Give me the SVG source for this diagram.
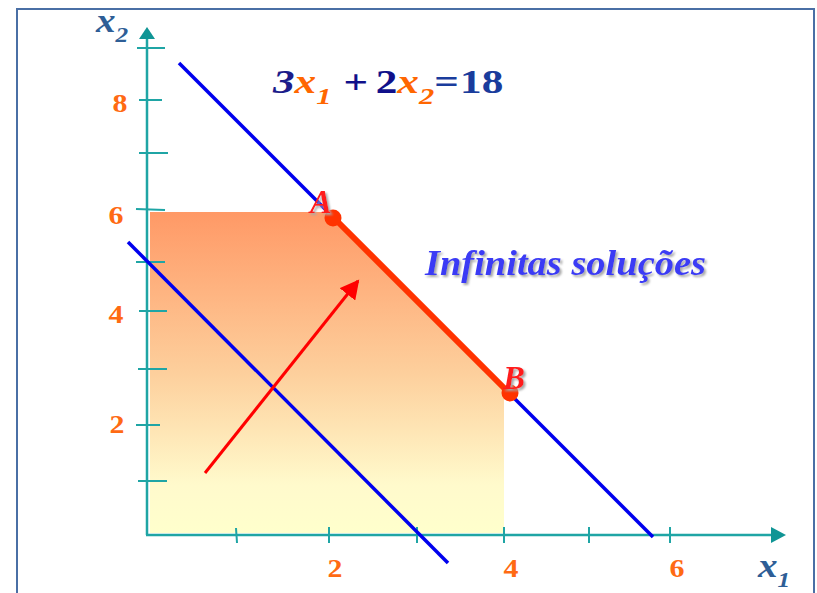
<svg xmlns="http://www.w3.org/2000/svg" width="817" height="593" viewBox="0 0 817 593">
<style>
.axis{stroke:#1fa5a5;stroke-width:2.5;fill:none}
.tick{stroke:#1fa5a5;stroke-width:2;fill:none}
.num{font-family:"Liberation Serif",serif;font-weight:bold;font-size:26px;fill:#ff6a13;text-anchor:middle}
.axlab{font-family:"Liberation Serif",serif;font-weight:bold;font-style:italic;fill:#2e5e96}
.blue{stroke:#0000ee;stroke-width:3.5;fill:none}
.pt{font-family:"Liberation Serif",serif;font-weight:bold;font-style:italic;font-size:33px;fill:#ff1a1a}
.eq{font-family:"Liberation Serif",serif;font-weight:bold;font-size:34px}
.var{font-style:italic;fill:#ff6600}
</style>
<defs>
<linearGradient id="g" x1="0" y1="0" x2="0" y2="1">
<stop offset="0" stop-color="#ff9966"/>
<stop offset="0.5" stop-color="#fdcf9c"/>
<stop offset="0.85" stop-color="#fffacc"/>
<stop offset="1" stop-color="#ffffcc"/>
</linearGradient>
<filter id="sh" x="-10%" y="-20%" width="130%" height="150%">
<feDropShadow dx="2" dy="2" stdDeviation="0.8" flood-color="#a8a8a8" flood-opacity="1"/>
</filter>
<marker id="ah" markerWidth="20" markerHeight="20" refX="17" refY="10" orient="auto" markerUnits="userSpaceOnUse">
<path d="M0,0 L19,10 L0,20 Z" fill="#ff0000"/>
</marker>
</defs>
<rect x="17" y="9" width="797" height="620" fill="#ffffff" stroke="#4a6fa5" stroke-width="2"/>

<g id="feasible-region">
<polygon points="150,212 328,212 504,388 504,533 150,533" fill="url(#g)"/>
</g>

<g id="axes">
<line class="axis" x1="147" y1="38" x2="147" y2="535"/>
<polygon points="147,27 139,39 155,39" fill="#109595"/>
<line class="axis" x1="146" y1="535" x2="772" y2="535"/>
<polygon points="786,535 771,527 771,543" fill="#109595"/>
<g class="tick">
<line x1="137" y1="48" x2="165" y2="48"/>
<line x1="139" y1="100" x2="162" y2="100"/>
<line x1="139" y1="153" x2="168" y2="153"/>
<line x1="136" y1="209" x2="165" y2="210"/>
<line x1="136" y1="262" x2="165" y2="262"/>
<line x1="139" y1="311" x2="167" y2="311"/>
<line x1="138" y1="369" x2="167" y2="369"/>
<line x1="136" y1="425" x2="160" y2="425"/>
<line x1="138" y1="481" x2="167" y2="481"/>
<line x1="236" y1="528" x2="237" y2="543"/>
<line x1="329" y1="527" x2="329" y2="543"/>
<line x1="417" y1="527" x2="417" y2="543"/>
<line x1="504" y1="527" x2="504" y2="543"/>
<line x1="589" y1="527" x2="589" y2="543"/>
<line x1="670" y1="527" x2="670" y2="543"/>
</g>
<text class="num" transform="translate(120,112) scale(1.15,1)">8</text>
<text class="num" transform="translate(116,224) scale(1.15,1)">6</text>
<text class="num" transform="translate(116,323) scale(1.15,1)">4</text>
<text class="num" transform="translate(117,433) scale(1.15,1)">2</text>
<text class="num" transform="translate(335,577) scale(1.15,1)">2</text>
<text class="num" transform="translate(511,577) scale(1.15,1)">4</text>
<text class="num" transform="translate(677,577) scale(1.15,1)">6</text>
<text class="axlab" transform="translate(96,32) scale(1.15,1)" font-size="34">x<tspan font-size="22" dy="10">2</tspan></text>
<text class="axlab" transform="translate(758,577) scale(1.15,1)" font-size="34">x<tspan font-size="22" dy="10">1</tspan></text>
</g>

<g id="connectors">
<line class="blue" x1="179" y1="63" x2="653" y2="537"/>
<line class="blue" x1="128" y1="242" x2="448" y2="563"/>
<line x1="334" y1="218" x2="510" y2="394" stroke="#ff3300" stroke-width="6"/>
<line x1="205" y1="473" x2="358" y2="281" stroke="#ff0000" stroke-width="3" marker-end="url(#ah)"/>
</g>

<g id="point-A">
<circle cx="333" cy="218" r="8.5" fill="#ff3300"/>
<text class="pt" x="310" y="213" filter="url(#sh)">A</text>
</g>
<g id="point-B">
<circle cx="510" cy="393" r="8.5" fill="#ff3300"/>
<text class="pt" x="503" y="389" filter="url(#sh)">B</text>
</g>

<g id="equation">
<text class="eq" transform="translate(273,93) scale(1.27,1)"><tspan font-style="italic" fill="#1c1c8a">3</tspan><tspan class="var">x</tspan><tspan class="var" font-size="24" dy="11">1</tspan><tspan dx="9.5" dy="-11" fill="#10108a">+</tspan><tspan dx="6" fill="#10108a">2</tspan><tspan class="var">x</tspan><tspan class="var" font-size="24" dy="11">2</tspan><tspan dy="-11" fill="#1a3c9c">=</tspan><tspan dx="1" fill="#1a3c9c">18</tspan></text>
</g>

<g id="label-infinitas">
<text x="425" y="275" font-family="Liberation Serif,serif" font-weight="bold" font-style="italic" font-size="36" fill="#3b3bf5" textLength="281" lengthAdjust="spacingAndGlyphs" filter="url(#sh)">Infinitas soluções</text>
</g>
</svg>
